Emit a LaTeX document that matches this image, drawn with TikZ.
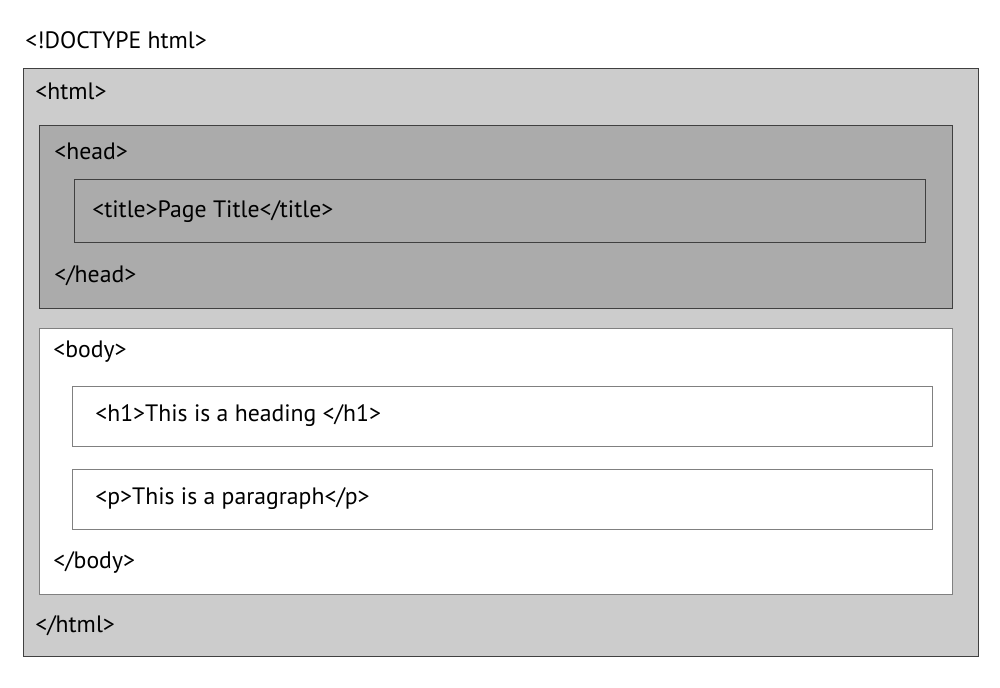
\documentclass[tikz,border=0pt]{standalone}
\usepackage{fontspec}
\setmainfont{PT Sans}
\definecolor{HtmlGray}{rgb}{0.80,0.80,0.80}
\definecolor{HeadGray}{rgb}{0.67,0.67,0.67}
\definecolor{EdgeGray}{rgb}{0.25,0.25,0.25}

\begin{document}
\begin{tikzpicture}[x=0.02cm,y=-0.02cm,
  tag/.style={anchor=west,inner sep=0pt,font=\fontsize{13.5}{15}\selectfont},
  box/.style={draw=EdgeGray,line width=0.45pt}]
\useasboundingbox (0,0) rectangle (1000,687);

\node[tag] (doctype) at (25,40) {<!DOCTYPE html>};

\draw[box,fill=HtmlGray] (23,68) rectangle (978,656);
\node[tag] (htmlopen) at (35,91) {<html>};

\draw[box,fill=HeadGray] (39,125) rectangle (952,308);
\node[tag] (headopen) at (54,151) {<head>};
\draw[box] (74,179) rectangle (925,242);
\node[tag] (title) at (92,212) {<title>Page Title</title>};
\node[tag] (headclose) at (54,276) {</head>};

\draw[box,draw=gray,fill=white] (39,328) rectangle (952,594);
\node[tag] (bodyopen) at (53,352) {<body>};
\draw[box,draw=gray] (72,386) rectangle (932,446);
\node[tag] (heading) at (95,416) {<h1>This is a heading </h1>};
\draw[box,draw=gray] (72,469) rectangle (932,529);
\node[tag] (para) at (95,499) {<p>This is a paragraph</p>};
\node[tag] (bodyclose) at (53,562) {</body>};

\node[tag] (htmlclose) at (35,626) {</html>};
\end{tikzpicture}
\end{document}
